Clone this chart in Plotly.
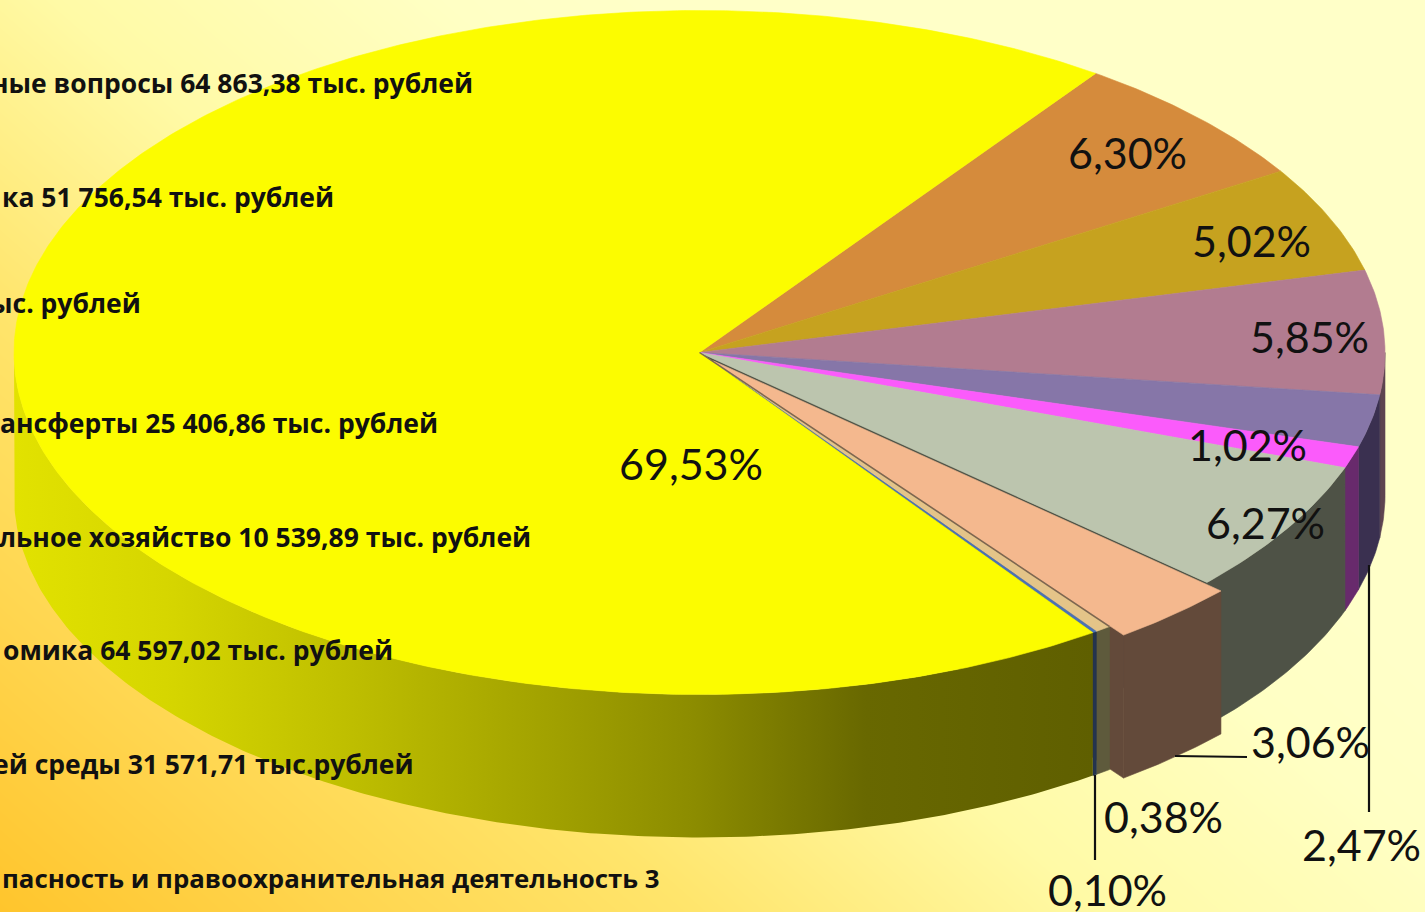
import numpy as np
import plotly.graph_objects as go

# ---- data (shares of the budget, %, clockwise from the top-right yellow edge)
slice_names = ["Общегосударственные вопросы", "Социальная политика", "Раздел 3", "Межбюджетные трансферты",
               "Жилищно-коммунальное хозяйство", "Национальная экономика", "Охрана окружающей среды",
               "Национальная безопасность", "Прочее", "Прочие расходы"]
slice_values = [6.30, 5.02, 5.85, 2.47, 1.02, 6.27, 3.06, 0.38, 0.10, 69.53]
slice_labels = ["6,30%", "5,02%", "5,85%", "2,47%", "1,02%", "6,27%", "3,06%", "0,38%", "0,10%", "69,53%"]
top_colors = ["#d58b3c", "#c6a21f", "#b27c90", "#8676a8", "#fb5bfb", "#bcc5ae", "#f4b88e", "#e4c488", "#4a72b4", "#fcfc00"]
wall_colors = ["#6a4620", "#63510f", "#5e4450", "#3a3050", "#682a6c", "#4e5246", "#634a3a", "#5e5a3c", "#24344e", "#666600"]
exploded = [0, 0, 0, 0, 0, 0, 1, 0, 0, 0]

label_texts = ["ные вопросы 64 863,38 тыс. рублей", "ка 51 756,54 тыс. рублей", "ыс. рублей",
               "ансферты 25 406,86 тыс. рублей", "альное хозяйство 10 539,89 тыс. рублей",
               "омика 64 597,02 тыс. рублей", "ей среды 31 571,71 тыс.рублей",
               "пасность и правоохранительная деятельность 3"]
label_sizes = [26.5, 26.5, 26.5, 26.5, 26.5, 26.5, 26.5, 25.8]

# ---- geometry of the drawing
W, H = 1425, 912
CX, CY, RX, RY, DEPTH = 699.5, 352.5, 685.5, 342, 143
START = 35.3
OFF = (14, 8.5)

def rim(a, ox=0, oy=0, dy=0):
    a = np.radians(a)
    return CX + ox + RX * np.sin(a), CY + oy + dy - RY * np.cos(a)

def poly(x, y, color, lw=0.6, **kw):
    return go.Scatter(x=list(x), y=list(y), mode="lines", fill="toself", fillcolor=color,
                      line=dict(color=color, width=lw), hoverinfo="skip", showlegend=False, **kw)

def top(a0, a1, color, ox=0, oy=0):
    a = np.linspace(a0, a1, max(int(abs(a1 - a0) * 2), 3))
    x, y = rim(a, ox, oy)
    return poly(np.r_[CX + ox, x, CX + ox], np.r_[CY + oy, y, CY + oy], color)

def wall(a0, a1, color, ox=0, oy=0, **kw):
    a0, a1 = max(a0, 90), min(a1, 270)
    if a1 <= a0:
        return None
    a = np.linspace(a0, a1, max(int((a1 - a0) * 2), 3))
    x, y = rim(a, ox, oy)
    xb, yb = rim(a, ox, oy, DEPTH)
    return poly(np.r_[x, xb[::-1], x[0]], np.r_[y, yb[::-1], y[0]], color, **kw)

def radial(a, color, ox=0, oy=0):
    x, y = rim(a, ox, oy)
    ax, ay = CX + ox, CY + oy
    return poly([ax, x, x, ax, ax], [ay, y, y + DEPTH, ay + DEPTH, ay], color)

edges = START + np.r_[0, np.cumsum(np.array(slice_values) * 3.6)]

fig = go.Figure()

# background gradient
gx = np.linspace(0, W, 72)
gy = np.linspace(0, H, 47)
s = gx[None, :] + 1.15 * (H - gy[:, None])
fig.add_trace(go.Heatmap(x=gx, y=gy, z=s, zmin=0, zmax=1700, zsmooth="best", showscale=False, hoverinfo="skip",
                         colorscale=[[0, "#ffc52c"], [0.2, "#ffd54e"], [0.41, "#ffe56c"], [0.65, "#fffaa6"],
                                     [0.88, "#ffffc4"], [1, "#ffffc8"]]))

# radial walls: they lie behind the outer walls of the pie
fig.add_trace(radial(edges[6], wall_colors[5]))
for i, c in enumerate(wall_colors):
    if exploded[i]:
        fig.add_trace(radial(edges[i + 1], c, *OFF))

# outer walls of the pie, then of the exploded slice
for i, c in enumerate(wall_colors):
    if exploded[i]:
        continue
    if i == len(wall_colors) - 1:
        tr = wall(edges[i], edges[i + 1], c, lw=0, fillgradient=dict(type="horizontal", colorscale=[
            [0, "#e2e200"], [0.14, "#d6d600"], [0.3, "#c0c000"], [0.48, "#a4a400"], [0.63, "#8c8c00"],
            [0.79, "#686800"], [1, "#5f5f00"]]))
    else:
        tr = wall(edges[i], edges[i + 1], c)
    if tr is not None:
        fig.add_trace(tr)

for i, c in enumerate(wall_colors):
    if exploded[i]:
        fig.add_trace(wall(edges[i], edges[i + 1], c, *OFF))

# top faces
for i, c in enumerate(top_colors):
    if not exploded[i]:
        fig.add_trace(top(edges[i], edges[i + 1], c))
for i, c in enumerate(top_colors):
    if exploded[i]:
        fig.add_trace(top(edges[i], edges[i + 1], c, *OFF))

# the dark seam between the exploded slice and the narrow slice beside it
seam_x, seam_y = rim(edges[7])
fig.add_trace(go.Scatter(x=[CX, seam_x], y=[CY, seam_y], mode="lines", line=dict(color="#7c6650", width=1.5),
                         hoverinfo="skip", showlegend=False))

# leader lines
leader_x = [[1369, 1369], [1175, 1247], [1095, 1095]]
leader_y = [[565, 812], [756, 757], [775, 860]]
for lx, ly in zip(leader_x, leader_y):
    fig.add_trace(go.Scatter(x=lx, y=ly, mode="lines", line=dict(color="#111111", width=2.2),
                             hoverinfo="skip", showlegend=False))

# percentage labels
pct_x = [1127, 1251, 1309, 1361, 1247, 1265, 1310, 1163, 1107, 691]
pct_y = [152, 240, 336, 844, 444, 522, 741, 816, 889, 463]
annotations = []
for t, x, y in zip(slice_labels, pct_x, pct_y):
    annotations.append(dict(x=x, y=y, text=t, showarrow=False, xanchor="center", yanchor="middle",
                            font=dict(family="Lato, Open Sans", size=43, color="#111111")))

# category labels (cut by the left edge of the picture)
lab_right = [475, 336, 143, 440, 533, 395, 416, 662]
lab_y = [83, 197, 303, 423, 537, 650, 764, 878]
for t, x, y, sz in zip(label_texts, lab_right, lab_y, label_sizes):
    annotations.append(dict(x=x, y=y, text="<b>" + t + "</b>", showarrow=False, xanchor="right", yanchor="middle",
                            font=dict(family="Open Sans", size=sz, color="#111111")))

fig.update_layout(width=W, height=H, margin=dict(l=0, r=0, t=0, b=0), paper_bgcolor="#ffffc8",
                  plot_bgcolor="rgba(0,0,0,0)", annotations=annotations, showlegend=False,
                  xaxis=dict(range=[0, W], visible=False, fixedrange=True),
                  yaxis=dict(range=[H, 0], visible=False, fixedrange=True))

fig.write_html("out.html", config=dict(displayModeBar=False),
               post_script="document.body.style.margin='0';document.body.style.overflow='hidden';")
